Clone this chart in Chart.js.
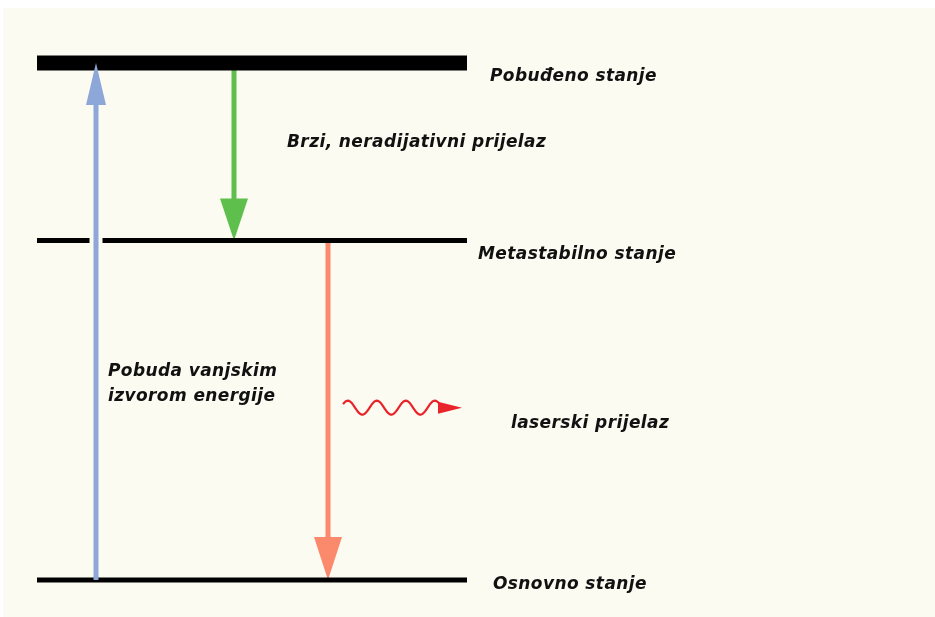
<!DOCTYPE html>
<html>
<head>
<meta charset="utf-8">
<script src="https://cdn.jsdelivr.net/npm/chart.js@4/dist/chart.umd.min.js"></script>
<style>
html,body{margin:0;padding:0;background:#fff;}
#wrap{position:absolute;left:0;top:0;width:935px;height:617px;}
</style>
</head>
<body>
<div id="wrap"><canvas id="c" width="935" height="617"></canvas></div>
<script>
// ---- data ----
const levelNames = ['Osnovno stanje', 'Metastabilno stanje', 'Pobuđeno stanje'];
const levelEnergy = [0, 1.97, 3.0];
const transitionNames = ['Pobuda vanjskim izvorom energije', 'Brzi, neradijativni prijelaz', 'laserski prijelaz'];
const transitionFrom = [0, 2, 1];
const transitionTo = [2, 1, 0];
const photonEnergy = 1.0;

// ---- layout / style ----
const levelSpan = [37, 467];
const levelWidths = [5, 5, 15];
const transitionX = [96, 234, 328];
const transitionColors = ['#8ca7d8', '#5fbf4d', '#fa8a6b'];
const transitionHead = [[42, 20], [42, 28], [43, 28]];
const levelLabelPos = [[493, 5], [478, 14], [490, 14]];
const transitionLabelPos = [[108, 372, 397], [287, 143], [511, 424]];
const FONT = 'italic bold 17px "DejaVu Sans"';
const CREAM = '#fbfbf2';

const datasets = levelNames.map((n, i) => ({
  label: n,
  data: [{x: levelSpan[0], y: levelEnergy[i]}, {x: levelSpan[1], y: levelEnergy[i]}],
  borderColor: '#000',
  borderWidth: levelWidths[i],
  pointRadius: 0,
  borderCapStyle: 'butt',
  fill: false
}));

function arrow(ctx, x, y0, y1, color, w, hl, hw) {
  const dir = y1 > y0 ? 1 : -1;
  const base = y1 - dir * hl;
  ctx.save();
  ctx.strokeStyle = color;
  ctx.fillStyle = color;
  ctx.lineWidth = w;
  ctx.lineCap = 'butt';
  ctx.beginPath();
  ctx.moveTo(x, y0);
  ctx.lineTo(x, base + dir * 1);
  ctx.stroke();
  ctx.beginPath();
  ctx.moveTo(x - hw / 2, base);
  ctx.lineTo(x + hw / 2, base);
  ctx.lineTo(x, y1);
  ctx.closePath();
  ctx.fill();
  ctx.restore();
}

function drawTransition(chart, i) {
  const {x: sx, y: sy} = chart.scales;
  const ctx = chart.ctx;
  const px = sx.getPixelForValue(transitionX[i]);
  const y0 = sy.getPixelForValue(levelEnergy[transitionFrom[i]]);
  const y1 = sy.getPixelForValue(levelEnergy[transitionTo[i]]);
  arrow(ctx, px, y0, y1, transitionColors[i], 5, transitionHead[i][0], transitionHead[i][1]);
}

const diagram = {
  id: 'diagram',
  beforeDraw(chart) {
    const ctx = chart.ctx;
    ctx.save();
    ctx.fillStyle = '#fff';
    ctx.fillRect(0, 0, chart.width, chart.height);
    ctx.fillStyle = CREAM;
    ctx.fillRect(3, 8, chart.width - 3, chart.height - 8);
    ctx.restore();
  },
  beforeDatasetsDraw(chart) {
    drawTransition(chart, 1);
    drawTransition(chart, 2);
  },
  afterDatasetsDraw(chart) {
    const ctx = chart.ctx;
    const {x: sx, y: sy} = chart.scales;
    // halo where pump arrow crosses metastable level
    const bx = sx.getPixelForValue(transitionX[0]);
    const my = sy.getPixelForValue(levelEnergy[1]);
    ctx.save();
    ctx.fillStyle = CREAM;
    ctx.fillRect(bx - 6.5, my - 4, 13, 8);
    ctx.restore();
    drawTransition(chart, 0);

    // photon (wavy arrow)
    const py = sy.getPixelForValue(photonEnergy);
    const x0 = sx.getPixelForValue(343), x1 = sx.getPixelForValue(442);
    const period = 29, amp = 7;
    ctx.save();
    ctx.strokeStyle = '#e8242a';
    ctx.fillStyle = '#e8242a';
    ctx.lineWidth = 2.2;
    ctx.lineJoin = 'round';
    ctx.beginPath();
    for (let xx = x0; xx <= x1; xx += 1) {
      const yy = py - amp * Math.sin((xx - x0) / period * 2 * Math.PI + Math.PI / 6);
      if (xx === x0) ctx.moveTo(xx, yy); else ctx.lineTo(xx, yy);
    }
    ctx.stroke();
    ctx.beginPath();
    ctx.moveTo(x1 - 4, py - 6);
    ctx.lineTo(sx.getPixelForValue(462), py);
    ctx.lineTo(x1 - 4, py + 6);
    ctx.closePath();
    ctx.fill();
    ctx.restore();

    // labels
    ctx.save();
    ctx.font = FONT;
    ctx.letterSpacing = '0.4px';
    ctx.fillStyle = '#111';
    ctx.textBaseline = 'middle';
    ctx.textAlign = 'left';
    levelNames.forEach((n, i) => {
      const y = sy.getPixelForValue(levelEnergy[i]) + levelLabelPos[i][1];
      ctx.fillText(n, levelLabelPos[i][0], y);
    });
    // pump label on two lines
    ctx.fillText('Pobuda vanjskim', transitionLabelPos[0][0], transitionLabelPos[0][1]);
    ctx.fillText('izvorom energije', transitionLabelPos[0][0], transitionLabelPos[0][2]);
    ctx.fillText(transitionNames[1], transitionLabelPos[1][0], transitionLabelPos[1][1]);
    ctx.fillText(transitionNames[2], transitionLabelPos[2][0], transitionLabelPos[2][1]);
    ctx.restore();
  }
};

new Chart(document.getElementById('c'), {
  type: 'line',
  data: {datasets},
  options: {
    responsive: false,
    animation: false,
    events: [],
    layout: {padding: 0},
    plugins: {legend: {display: false}, tooltip: {enabled: false}},
    scales: {
      x: {type: 'linear', min: 0, max: 935, display: false},
      y: {type: 'linear', min: -0.2147, max: 3.3656, display: false}
    }
  },
  plugins: [diagram]
});
</script>
</body>
</html>
